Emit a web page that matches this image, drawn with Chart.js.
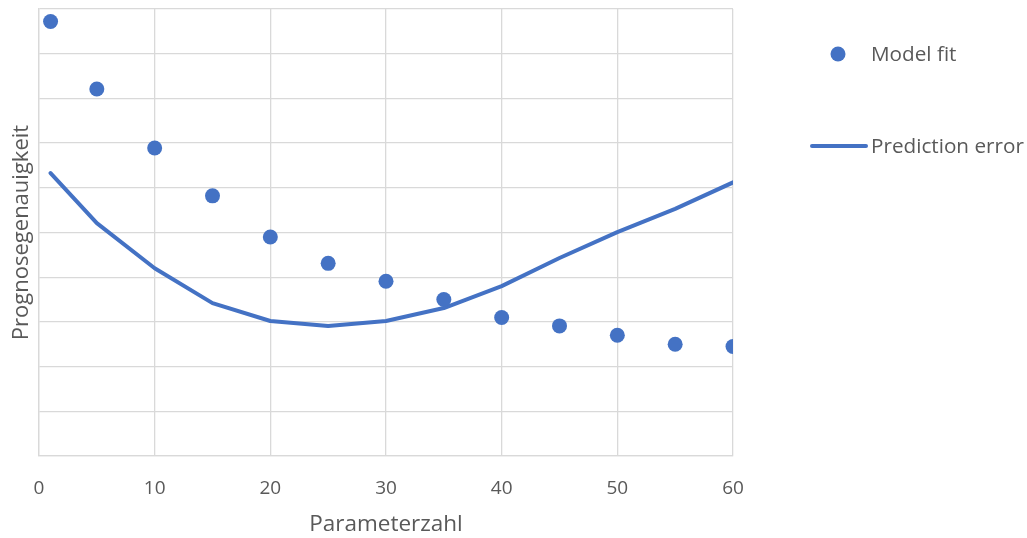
<!DOCTYPE html>
<html>
<head>
<meta charset="utf-8">
<script src="https://cdn.jsdelivr.net/npm/chart.js@4/dist/chart.umd.min.js"></script>
<style>
  html, body { margin: 0; padding: 0; background: #ffffff; }
  #wrap { width: 1027px; height: 538px; }
</style>
</head>
<body>
<div id="wrap"><canvas id="c" width="1027" height="538"></canvas></div>
<script>
// Parameter counts on the x axis
const paramCounts = [1, 5, 10, 15, 20, 25, 30, 35, 40, 45, 50, 55, 60];
// Model fit (scatter markers)
const modelFit = [97.2, 82.1, 68.9, 58.2, 49.0, 43.1, 39.1, 35.0, 31.0, 29.1, 27.0, 25.0, 24.5];
// Prediction error (line)
const predictionError = [63.3, 52.1, 42.0, 34.2, 30.2, 29.1, 30.2, 33.1, 38.0, 44.3, 50.1, 55.3, 61.2];
// Axis tick values along x
const xTicks = [0, 10, 20, 30, 40, 50, 60];

const BLUE = '#4472C4';
const GRID = '#d9d9d9';
const TEXT = '#595959';
const FONT = '"Open Sans", sans-serif';

const toPoints = (ys) => paramCounts.map((x, i) => ({ x: x, y: ys[i] }));

// Legend drawn to the right of the plot area
const sideLegend = {
  id: 'sideLegend',
  afterDraw(chart) {
    const ctx = chart.ctx;
    const dsFit = chart.data.datasets[0];
    const dsErr = chart.data.datasets[1];
    ctx.save();
    ctx.font = '20.7px ' + FONT;
    ctx.fillStyle = TEXT;
    ctx.textBaseline = 'middle';
    ctx.textAlign = 'left';

    // Marker entry
    ctx.beginPath();
    ctx.fillStyle = dsFit.backgroundColor;
    ctx.arc(838, 54, dsFit.pointRadius, 0, Math.PI * 2);
    ctx.fill();
    ctx.fillStyle = TEXT;
    ctx.fillText(dsFit.label, 871, 55);

    // Line entry
    ctx.beginPath();
    ctx.strokeStyle = dsErr.borderColor;
    ctx.lineWidth = dsErr.borderWidth;
    ctx.lineCap = 'round';
    ctx.moveTo(812, 146);
    ctx.lineTo(866, 146);
    ctx.stroke();
    ctx.fillText(dsErr.label, 871, 147);
    ctx.restore();
  }
};

new Chart(document.getElementById('c'), {
  type: 'scatter',
  data: {
    datasets: [
      {
        label: 'Model fit',
        data: toPoints(modelFit),
        showLine: false,
        backgroundColor: BLUE,
        borderColor: BLUE,
        pointRadius: 7.5,
        pointBorderWidth: 0,
        order: 0
      },
      {
        type: 'line',
        label: 'Prediction error',
        data: toPoints(predictionError),
        borderColor: BLUE,
        backgroundColor: BLUE,
        borderWidth: 4,
        borderCapStyle: 'round',
        borderJoinStyle: 'round',
        pointRadius: 0,
        tension: 0,
        fill: false,
        order: 1
      }
    ]
  },
  options: {
    responsive: false,
    animation: false,
    devicePixelRatio: 1,
    layout: { padding: { left: 0, right: 294, top: 9, bottom: 0 } },
    plugins: {
      legend: { display: false },
      tooltip: { enabled: false }
    },
    scales: {
      x: {
        type: 'linear',
        min: 0,
        max: 60,
        afterBuildTicks(scale) { scale.ticks = xTicks.map(v => ({ value: v })); },
        afterFit(scale) { scale.height = 82; },
        grid: { color: GRID, lineWidth: 1.3, drawTicks: false },
        border: { color: GRID, width: 1.3 },
        ticks: { color: TEXT, font: { family: FONT, size: 19 }, padding: 21, maxRotation: 0 },
        title: {
          display: true,
          text: 'Parameterzahl',
          color: TEXT,
          font: { family: FONT, size: 22.5 },
          padding: { top: 0, bottom: 0 }
        }
      },
      y: {
        type: 'linear',
        min: 0,
        max: 100,
        afterFit(scale) { scale.width = 39; },
        grid: { color: GRID, lineWidth: 1.3, drawTicks: false },
        border: { color: GRID, width: 1.3 },
        ticks: { display: false, stepSize: 10 },
        title: {
          display: true,
          text: 'Prognosegenauigkeit',
          color: TEXT,
          font: { family: FONT, size: 22 },
          padding: { top: 9, bottom: 0 }
        }
      }
    }
  },
  plugins: [sideLegend]
});
</script>
</body>
</html>
